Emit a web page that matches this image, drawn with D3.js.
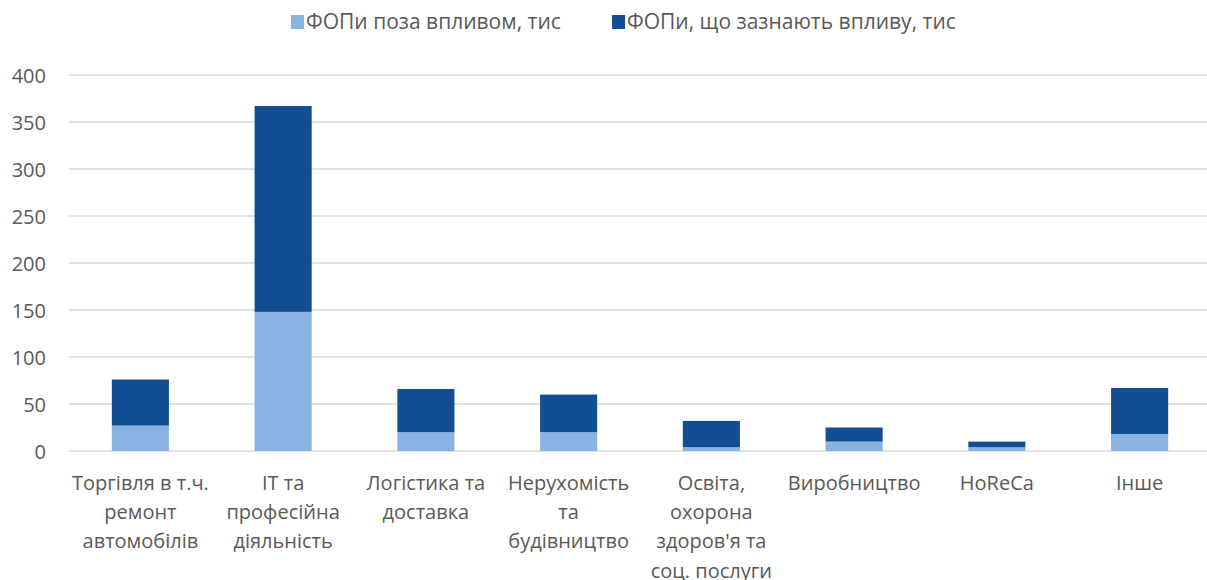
<!DOCTYPE html>
<html><head><meta charset="utf-8">
<script src="https://cdn.jsdelivr.net/npm/d3@7"></script>
<style>body{margin:0;background:#fff;} svg{display:block;} text{font-family:"Open Sans",sans-serif;fill:#595959;}</style>
</head><body><svg id="c" width="1207" height="580"></svg>
<script>
const categories = ["Торгівля в т.ч.\nремонт\nавтомобілів","IT та\nпрофесійна\nдіяльність","Логістика та\nдоставка","Нерухомість\nта\nбудівництво","Освіта,\nохорона\nздоров'я та\nсоц. послуги","Виробництво","HoReCa","Інше"];
const seriesNames = ["ФОПи поза впливом, тис","ФОПи, що зазнають впливу, тис"];
const outsideImpact = [27, 148, 20, 20, 4, 10, 4, 18];
const underImpact = [49, 219, 46, 40, 28, 15, 6, 49];
const yTicks = [0,50,100,150,200,250,300,350,400];
const colors = ["#8AB3E2","#124E91"];

const svg = d3.select("#c");
const W = 1207, H = 580;
const x = d3.scaleBand().domain(categories).range([69, 1211]).paddingInner(0.6).paddingOuter(0.3);
const y = d3.scaleLinear().domain([0,400]).range([451, 75]);
const fs = 20;

// gridlines
svg.append("g").selectAll("line").data(yTicks).join("line")
  .attr("x1", 69).attr("x2", W).attr("y1", d=>y(d)).attr("y2", d=>y(d))
  .attr("stroke", "#D9D9D9").attr("stroke-width", 1.5);

// y labels
const yAxis = d3.axisLeft(y).tickValues(yTicks).tickSize(0).tickPadding(0);
const yg = svg.append("g").attr("transform","translate(46,0)").call(yAxis);
yg.select(".domain").remove();
yg.selectAll("text").attr("font-size", fs).attr("font-family","Open Sans, sans-serif").attr("fill","#595959").attr("dy","0.35em").attr("x",0);

// stacked data
const rows = categories.map((c,i)=>({cat:c, a:outsideImpact[i], b:underImpact[i]}));
const stack = d3.stack().keys(["a","b"])(rows);
svg.append("g").selectAll("g").data(stack).join("g").attr("fill",(d,i)=>colors[i])
  .selectAll("rect").data(d=>d).join("rect")
  .attr("x", d=>x(d.data.cat)).attr("width", x.bandwidth())
  .attr("y", d=>y(d[1])).attr("height", d=>y(d[0])-y(d[1]));

// x labels
const xg = svg.append("g");
categories.forEach(c=>{
  const t = xg.append("text").attr("text-anchor","middle").attr("font-size",fs)
    .attr("x", x(c)+x.bandwidth()/2).attr("y", 483);
  c.split("\n").forEach((ln,j)=>{
    t.append("tspan").attr("x", x(c)+x.bandwidth()/2).attr("y", 483 + j*29.2).attr("dy","0.35em").text(ln);
  });
});

// legend
const leg = svg.append("g");
const legX = [291, 612];
seriesNames.forEach((n,i)=>{
  leg.append("rect").attr("x", legX[i]).attr("y", 15).attr("width", 13).attr("height", 14).attr("fill", colors[i]);
  leg.append("text").attr("x", legX[i]+15).attr("y", 22).attr("dy","0.35em").attr("font-size", 21).text(n);
});
</script></body></html>
